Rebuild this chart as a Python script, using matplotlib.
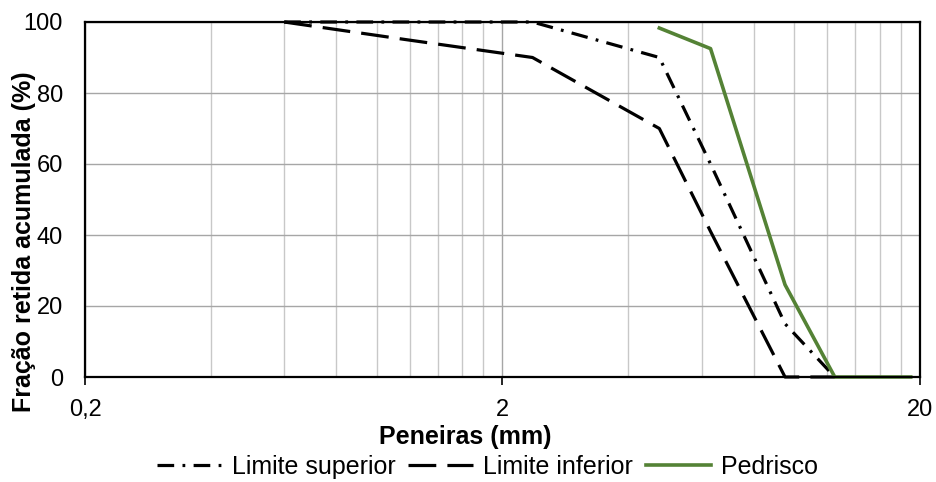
import matplotlib.pyplot as plt
from matplotlib.ticker import FixedLocator, FixedFormatter, NullFormatter
import numpy as np

plt.rcParams['font.family'] = ['Liberation Sans', 'DejaVu Sans']
plt.rcParams['lines.scale_dashes'] = False

# Dados das curvas granulométricas (peneira em mm, fração retida acumulada em %)
sup_x = [0.6, 1.18, 2.36, 4.75, 6.3, 9.5, 12.5]
sup_y = [100, 100, 100, 90, 60, 15, 0]

inf_x = [0.6, 1.18, 2.36, 4.75, 6.3, 9.5, 12.5]
inf_y = [100, 95, 90, 70, 41, 0, 0]

ped_x = [4.75, 6.3, 9.5, 12.5, 19]
ped_y = [98.3, 92.5, 26, 0, 0]

x_ticks = [0.2, 2, 20]
x_tick_labels = ['0,2', '2', '20']
y_ticks = [0, 20, 40, 60, 80, 100]

fig = plt.figure(figsize=(9.36, 4.82), dpi=100)
ax = fig.add_axes([85 / 936, 1 - 377 / 482, 835 / 936, 355 / 482])

ax.plot(sup_x, sup_y, color='black', lw=2.3, dashes=(12, 6, 2, 6),
        label='Limite superior', clip_on=False, zorder=3)
ax.plot(inf_x, inf_y, color='black', lw=2.3, dashes=(20, 8),
        label='Limite inferior', clip_on=False, zorder=3)
ax.plot(ped_x, ped_y, color='#548235', lw=2.6,
        label='Pedrisco', clip_on=False, zorder=4)

ax.set_xscale('log')
ax.set_xlim(0.2, 20)
ax.set_ylim(0, 100)

ax.xaxis.set_major_locator(FixedLocator(x_ticks))
ax.xaxis.set_major_formatter(FixedFormatter(x_tick_labels))
minor = list(np.arange(0.4, 2.0, 0.2)) + list(np.arange(4, 20, 2))
ax.xaxis.set_minor_locator(FixedLocator(minor))
ax.xaxis.set_minor_formatter(NullFormatter())
ax.set_yticks(y_ticks)

ax.tick_params(axis='x', which='major', direction='out', length=6, width=1.2,
               labelsize=17, pad=10)
ax.tick_params(axis='x', which='minor', length=0)
ax.tick_params(axis='y', length=0, labelsize=17, pad=16)

ax.grid(True, which='major', color='#A6A6A6', lw=1)
ax.grid(True, which='minor', axis='x', color='#C8C8C8', lw=1)
ax.set_axisbelow(True)

for s in ax.spines.values():
    s.set_linewidth(1.6)
    s.set_color('black')
    s.set_zorder(5)

ax.set_xlabel('Peneiras (mm)', fontsize=18, fontweight='bold')
ax.xaxis.label.set_va('center')
ax.xaxis.set_label_coords(0.455, -0.169)
ax.set_ylabel('Fração retida acumulada (%)', fontsize=18, fontweight='bold')
ax.yaxis.label.set_va('center')
ax.yaxis.set_label_coords(-0.073, 0.382)

fig.legend(loc='center', bbox_to_anchor=(487.5 / 936, 1 - 467 / 482), ncol=3,
           frameon=False, fontsize=18, handlelength=2.6, handletextpad=0.4,
           columnspacing=0.5, borderaxespad=0)

fig.savefig('out.png', dpi=100)
